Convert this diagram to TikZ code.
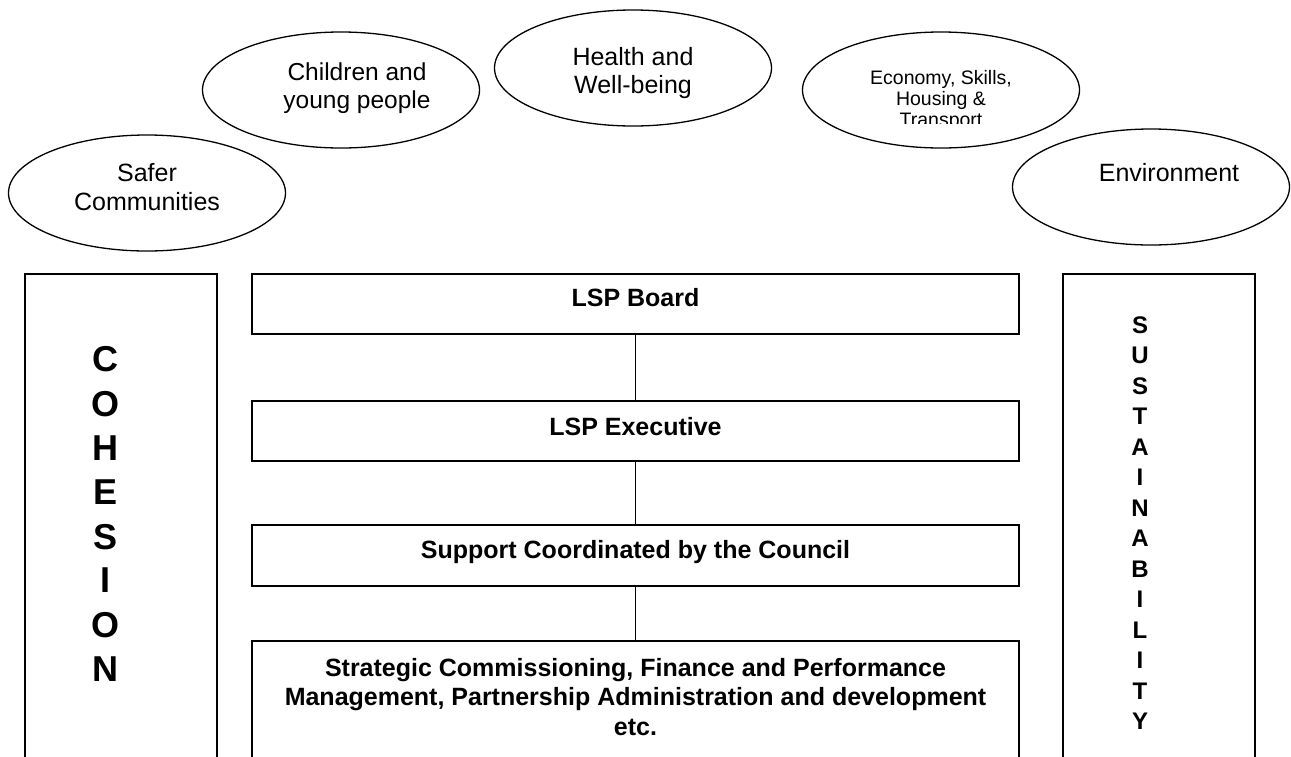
\documentclass[tikz,border=0pt]{standalone}
\usepackage{fontspec}
\setmainfont{Liberation Sans}
\usetikzlibrary{shapes.geometric}

\tikzset{
  theme/.style={draw, ellipse, line width=1.3pt, inner sep=0pt,
                minimum width=277pt, minimum height=116pt},
  themetext/.style={anchor=north, inner sep=0pt, align=center,
                    font=\fontsize{25}{29}\selectfont},
  panel/.style={draw, rectangle, line width=1.7pt, inner sep=0pt},
  tier/.style={panel, minimum width=767pt},
  tiertext/.style={anchor=north, inner sep=0pt, align=center,
                   font=\bfseries\fontsize{25}{29.5}\selectfont},
  link/.style={line width=1.3pt},
  bigletter/.style={anchor=north, inner sep=0pt,
                    font=\bfseries\fontsize{36}{36}\selectfont},
  smallletter/.style={anchor=north, inner sep=0pt,
                      font=\bfseries\fontsize{24}{24}\selectfont}
}

\begin{document}
\begin{tikzpicture}[x=1pt, y=-1pt]
\useasboundingbox (0,0) rectangle (1291,756);

% theme ellipses
\node[theme] (safer)  at (147,193)  {};
\node[theme] (child)  at (341,90)   {};
\node[theme] (health) at (633,68)   {};
\node[theme] (econ)   at (941,90)   {};
\node[theme] (env)    at (1151,187) {};

\node[themetext] (tsafer)  at (147,163)  {Safer\\Communities};
\node[themetext, font=\fontsize{24.5}{28}\selectfont] (tchild) at (357,63) {Children and\\young people};
\node[themetext, font=\fontsize{25}{28.3}\selectfont] (thealth) at (633,47) {Health and\\Well-being};
% the third line of this label is cut off by its text frame
\begin{scope}
  \clip (800,0) rectangle (1085,123.5);
  \node[themetext, font=\fontsize{19.5}{21}\selectfont] (tecon) at (941,70) {Economy, Skills,\\Housing \&\\Transport};
\end{scope}
\node[themetext] (tenv) at (1169,163) {Environment};

% side panels
\node[panel, minimum width=192pt, minimum height=502pt] (coh)  at (121,525)  {};
\node[panel, minimum width=192pt, minimum height=502pt] (sust) at (1159,525) {};

\foreach \ch [count=\i] in {C,O,H,E,S,I,O,N}
  \node[bigletter] (cohl\i) at (105.5,{346.5+(\i-1)*44.3}) {\ch};
\foreach \ch [count=\i] in {S,U,S,T,A,I,N,A,B,I,L,I,T,Y}
  \node[smallletter] (susl\i) at (1140,{316.5+(\i-1)*30.5}) {\ch};

% partnership tiers
\node[tier, minimum height=60pt]  (board) at (635.5,304)   {};
\node[tier, minimum height=60pt]  (exec)  at (635.5,431)   {};
\node[tier, minimum height=61pt]  (supp)  at (635.5,555.5) {};
\node[tier, minimum height=135pt] (strat) at (635.5,708.5) {};

\node[tiertext] (tboard) at (635.5,288) {LSP Board};
\node[tiertext] (texec)  at (635.5,417) {LSP Executive};
\node[tiertext] (tsupp)  at (635.5,540) {Support Coordinated by the Council};
\node[tiertext] (tstrat) at (635.5,658) {Strategic Commissioning, Finance and Performance\\Management, Partnership Administration and development\\etc.};

\draw[link] (board.south) -- (exec.north);
\draw[link] (exec.south) -- (supp.north);
\draw[link] (supp.south) -- (strat.north);
\end{tikzpicture}
\end{document}
